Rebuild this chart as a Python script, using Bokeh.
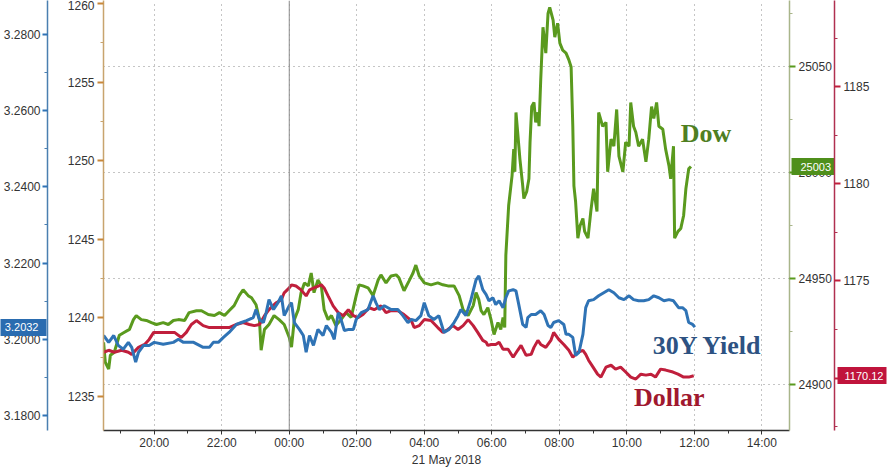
from bokeh.plotting import figure
from bokeh.models import Range1d, LinearAxis, FixedTicker, Span, Label, PrintfTickFormatter
from bokeh.embed import file_html
from bokeh.resources import INLINE

# ---------------- data (times are HH:MM; 18:00-23:59 belong to 20 May, the rest to 21 May) -------------
dow_times = ["18:30","18:33","18:39","18:42","18:49","18:58","19:07","19:16","19:23","19:28","19:37","19:46",
             "19:55","20:04","20:16","20:25","20:34","20:43","20:54","21:02","21:15","21:24","21:36","21:47",
             "21:56","22:05","22:13","22:22","22:31","22:38","22:47","22:53","23:01","23:07","23:10","23:16",
             "23:24","23:33","23:42","23:51","00:00","00:04","00:09","00:16","00:21","00:27","00:34","00:39",
             "00:44","00:51","00:57","01:02","01:09","01:15","01:23","01:32","01:41","01:50","01:59","02:04",
             "02:11","02:20","02:29","02:38","02:43","02:52","03:01","03:10","03:15","03:24","03:33","03:40",
             "03:45","03:51","04:00","04:12","04:24","04:33","04:42","04:53","05:02","05:09","05:18","05:27",
             "05:32","05:37","05:41","05:46","05:53","05:59","06:04","06:11","06:16","06:20","06:23","06:25",
             "06:30","06:36","06:39","06:41","06:43","06:46","06:50","06:55","06:57","07:02","07:06","07:08",
             "07:11","07:15","07:18","07:22","07:24","07:27","07:31","07:33","07:36","07:40","07:43","07:49",
             "07:52","07:57","08:01","08:06","08:12","08:17","08:21","08:24","08:26","08:29","08:33","08:37",
             "08:42","08:45","08:51","08:56","09:01","09:07","09:10","09:17","09:23","09:26","09:32","09:37",
             "09:42","09:46","09:53","09:58","10:04","10:07","10:12","10:16","10:21","10:28","10:34","10:39",
             "10:44","10:48","10:53","10:57","11:04","11:09","11:15","11:18","11:23","11:25","11:31","11:36",
             "11:41","11:45","11:50","11:54"]
dow_vals = [24920.1,24910.7,24907.5,24914.0,24915.4,24923.4,24924.8,24926.2,24930.8,24932.7,24930.8,24930.4,
            24929.4,24928.5,24929.4,24928.5,24930.4,24930.8,24930.4,24934.1,24935.0,24935.0,24933.2,24932.7,
            24934.1,24932.7,24935.0,24937.4,24942.1,24944.9,24942.1,24941.1,24937.8,24930.8,24916.4,24926.2,
            24928.5,24932.7,24930.8,24928.5,24922.4,24917.8,24930.8,24935.5,24943.5,24948.1,24946.7,24952.8,
            24943.5,24949.5,24946.7,24935.5,24930.8,24932.7,24928.0,24930.8,24934.1,24931.8,24942.1,24947.2,
            24946.7,24945.8,24942.1,24949.5,24951.9,24948.1,24951.4,24951.9,24950.5,24944.4,24949.1,24952.8,
            24956.5,24951.4,24948.1,24947.2,24948.1,24947.2,24946.7,24946.7,24942.1,24935.5,24932.7,24937.4,
            24943.5,24940.2,24935.0,24933.2,24936.4,24930.4,24923.8,24929.4,24926.2,24931.8,24927.1,24961.2,
            24984.6,24998.6,25011.2,25000.5,25028.5,25019.2,25006.5,24993.9,24987.9,24991.1,24997.2,25014.5,
            25031.3,25033.2,25023.8,25028.5,25022.0,25043.9,25068.7,25064.0,25056.5,25075.2,25078.0,25072.0,
            25064.0,25070.6,25061.2,25057.9,25056.5,25053.3,25050.0,25022.0,24993.9,24986.4,24969.2,24975.2,
            24978.5,24972.4,24969.2,24981.8,24992.5,24981.8,25028.5,25022.0,25023.8,25000.5,25015.9,25012.6,
            25029.9,25007.9,25000.5,25014.5,25012.6,25033.2,25022.0,25019.2,25012.6,25015.9,25005.2,25015.9,
            25031.3,25025.7,25033.2,25022.0,25020.6,25011.2,25003.3,24997.2,25012.6,24969.2,24972.4,24973.8,
            24979.9,24992.5,25001.9,25003.0]

yld_times = ["18:30","18:39","18:48","18:56","19:05","19:14","19:20","19:27","19:32","19:41","19:51","20:00",
             "20:16","20:34","20:43","20:52","21:10","21:27","21:38","21:45","21:54","22:03","22:13","22:26",
             "22:35","22:44","22:56","23:01","23:07","23:14","23:19","23:24","23:32","23:40","23:46","23:51",
             "00:00","00:04","00:09","00:18","00:25","00:30","00:36","00:43","00:51","01:00","01:06","01:15",
             "01:20","01:27","01:32","01:38","01:46","01:54","01:59","02:08","02:20","02:29","02:34","02:40",
             "02:49","03:01","03:13","03:22","03:31","03:37","03:45","03:54","04:00","04:08","04:17","04:26",
             "04:35","04:44","04:53","05:00","05:05","05:14","05:23","05:32","05:37","05:44","05:50","05:55",
             "06:02","06:07","06:13","06:20","06:25","06:30","06:38","06:43","06:48","06:55","07:01","07:04",
             "07:10","07:18","07:27","07:33","07:40","07:45","07:50","07:59","08:08","08:12","08:17","08:24",
             "08:29","08:35","08:42","08:47","08:52","09:01","09:10","09:19","09:28","09:37","09:46","09:55",
             "10:04","10:12","10:21","10:30","10:39","10:48","10:57","11:06","11:15","11:23","11:32","11:39",
             "11:45","11:50","11:57","12:01"]
yld_vals = [3.2010,3.1992,3.2010,3.1984,3.1974,3.1992,3.1979,3.1940,3.1966,3.1984,3.1984,3.1992,
            3.1987,3.1992,3.2000,3.1992,3.1992,3.1979,3.1979,3.1992,3.1992,3.2005,3.2018,3.2039,
            3.2044,3.2049,3.2057,3.2078,3.2052,3.2044,3.2070,3.2104,3.2078,3.2096,3.2114,3.2062,
            3.2088,3.2096,3.2044,3.2026,3.2010,3.1966,3.2010,3.1984,3.2026,3.2010,3.2036,3.2018,
            3.2000,3.2070,3.2052,3.2023,3.2026,3.2026,3.2052,3.2070,3.2078,3.2114,3.2096,3.2078,
            3.2088,3.2078,3.2078,3.2062,3.2044,3.2052,3.2049,3.2062,3.2096,3.2062,3.2052,3.2062,
            3.2018,3.2026,3.2044,3.2062,3.2078,3.2062,3.2104,3.2156,3.2166,3.2130,3.2117,3.2101,
            3.2109,3.2091,3.2101,3.2083,3.2109,3.2127,3.2130,3.2127,3.2091,3.2039,3.2031,3.2057,
            3.2065,3.2065,3.2075,3.2065,3.2036,3.2031,3.2044,3.2049,3.2039,3.2013,3.2013,3.2005,
            3.1958,3.1966,3.2013,3.2083,3.2101,3.2104,3.2114,3.2122,3.2130,3.2122,3.2109,3.2104,
            3.2114,3.2104,3.2101,3.2101,3.2104,3.2114,3.2109,3.2101,3.2104,3.2101,3.2083,3.2083,
            3.2075,3.2044,3.2039,3.2032]

usd_times = ["18:30","18:39","18:49","19:02","19:14","19:20","19:32","19:43","19:51","19:59","20:09","20:22",
             "20:36","20:48","20:57","21:06","21:15","21:27","21:38","21:50","22:03","22:13","22:26","22:38",
             "22:49","22:58","23:07","23:16","23:24","23:37","23:46","23:51","00:00","00:04","00:12","00:21",
             "00:30","00:36","00:44","00:57","01:02","01:09","01:18","01:27","01:36","01:45","01:54","02:02",
             "02:11","02:22","02:31","02:43","02:52","03:01","03:13","03:24","03:37","03:42","03:51","04:00",
             "04:12","04:24","04:33","04:42","04:51","05:00","05:09","05:18","05:27","05:35","05:44","05:50",
             "05:53","05:59","06:07","06:13","06:20","06:29","06:38","06:46","06:52","07:01","07:10","07:15",
             "07:22","07:27","07:36","07:45","07:50","07:59","08:08","08:17","08:24","08:33","08:42","08:47",
             "08:52","09:00","09:08","09:14","09:23","09:32","09:40","09:49","09:58","10:07","10:16","10:25",
             "10:34","10:43","10:51","11:00","11:09","11:22","11:31","11:41","11:50","11:59"]
usd_vals = [1171.33,1171.43,1171.33,1171.43,1171.33,1171.22,1171.58,1171.73,1171.99,1172.35,1172.35,1172.35,
            1172.35,1172.09,1172.35,1172.76,1172.96,1172.70,1172.60,1172.60,1172.60,1172.60,1172.76,1172.86,
            1172.76,1172.70,1172.76,1173.21,1173.52,1173.88,1174.03,1174.39,1174.64,1174.80,1174.74,1174.54,
            1174.23,1174.54,1174.64,1174.80,1174.64,1174.23,1173.72,1173.37,1173.21,1173.52,1173.21,1173.11,
            1173.27,1173.62,1173.52,1173.72,1173.37,1173.47,1173.47,1173.27,1172.96,1172.60,1172.70,1173.01,
            1172.96,1172.60,1172.35,1172.50,1172.70,1172.50,1172.70,1173.01,1172.70,1172.35,1171.94,1171.84,
            1171.68,1171.73,1171.73,1171.84,1171.48,1171.48,1171.07,1171.43,1171.68,1171.17,1171.22,1171.58,
            1171.94,1171.73,1171.58,1171.94,1172.35,1171.99,1171.73,1171.43,1171.07,1171.33,1171.43,1171.22,
            1170.92,1170.56,1170.20,1170.05,1170.56,1170.66,1170.46,1170.56,1170.31,1170.05,1169.95,1170.20,
            1170.15,1170.20,1170.05,1170.46,1170.41,1170.31,1170.20,1170.05,1170.05,1170.12]

x_tick_hours = [-4, -2, 0, 2, 4, 6, 8, 10, 12, 14]
x_tick_labels = ["20:00", "22:00", "00:00", "02:00", "04:00", "06:00", "08:00", "10:00", "12:00", "14:00"]
date_label = "21 May 2018"
yld_ticks = [3.18, 3.20, 3.22, 3.24, 3.26, 3.28]
aux_ticks = [1235, 1240, 1245, 1250, 1255, 1260]
dow_ticks = [24900, 24950, 25000, 25050]
usd_ticks = [1170, 1175, 1180, 1185]
last_yld, last_dow, last_usd = 3.2032, 25003, 1170.12
series_names = ["Dow", "30Y Yield", "Dollar"]


def to_hours(s):
    h, m = map(int, s.split(":"))
    t = h + m / 60.0
    return t - 24 if h >= 18 else t


def mids(ticks):
    step = ticks[1] - ticks[0]
    return [ticks[0] - step / 2] + [t + step / 2 for t in ticks]


# ---------------- colours ----------------
GREEN, BLUE, RED = "#5a9a1e", "#2f73b5", "#c01f3c"
FONT = "Liberation Sans"

p = figure(width=890, height=469, output_backend="svg", toolbar_location=None,
           x_range=Range1d(-5.503, 14.82), y_range=Range1d(24878.5, 25081.3),
           y_axis_location="right", min_border_left=102, min_border_right=101,
           min_border_top=0, min_border_bottom=0)
p.outline_line_color = None
p.background_fill_color = "white"
p.border_fill_color = "white"
p.extra_y_ranges = {"yld": Range1d(3.1761, 3.2888),
                    "aux": Range1d(1232.83, 1260.19),
                    "usd": Range1d(1167.30, 1189.44)}


def style_axis(ax, line_color, tick_color, tick_out=6, standoff=3):
    ax.axis_line_color = line_color
    ax.axis_line_width = 1.5
    ax.major_tick_line_color = tick_color
    ax.major_tick_line_width = 2
    ax.major_tick_out = tick_out
    ax.major_tick_in = 0
    ax.minor_tick_line_color = line_color
    ax.minor_tick_out = 3
    ax.minor_tick_in = 0
    ax.major_label_text_font = FONT
    ax.major_label_text_font_size = "12px"
    ax.major_label_text_color = "#333333"
    ax.major_label_standoff = standoff


def tag_axis(ax, color, tick_in, tick_out, standoff):
    """An axis with a single tick at the last value, drawn as a filled tag."""
    ax.axis_line_color = None
    ax.minor_tick_line_color = None
    ax.minor_tick_out = 0
    ax.minor_tick_in = 0
    ax.major_tick_line_color = color
    ax.major_tick_line_width = 17
    ax.major_tick_in = tick_in
    ax.major_tick_out = tick_out
    ax.major_label_standoff = standoff
    ax.major_label_text_font = FONT
    ax.major_label_text_font_size = "11px"
    ax.major_label_text_color = "white"


# Dow axis (default right axis, inner)
dow_ax = p.yaxis[0]
dow_ax.ticker = FixedTicker(ticks=dow_ticks, minor_ticks=mids(dow_ticks))
style_axis(dow_ax, "#a9b58a", GREEN)

# Dow last-value tag
dow_tag = LinearAxis(ticker=FixedTicker(ticks=[last_dow], minor_ticks=[]),
                     formatter=PrintfTickFormatter(format="%d"))
tag_axis(dow_tag, "#4f8f1b", tick_in=43, tick_out=0, standoff=-34)
p.add_layout(dow_tag, "right")

# Dollar axis (outer right)
usd_ax = LinearAxis(y_range_name="usd",
                    ticker=FixedTicker(ticks=usd_ticks, minor_ticks=mids(usd_ticks)))
style_axis(usd_ax, "#b03050", RED)
p.add_layout(usd_ax, "right")

# Dollar last-value tag
usd_tag = LinearAxis(y_range_name="usd", ticker=FixedTicker(ticks=[last_usd], minor_ticks=[]),
                     formatter=PrintfTickFormatter(format="%.2f"))
tag_axis(usd_tag, "#c0143c", tick_in=35, tick_out=14, standoff=-42)
p.add_layout(usd_tag, "right")

# auxiliary axis 1235-1260 (inner left)
aux_ax = LinearAxis(y_range_name="aux",
                    ticker=FixedTicker(ticks=aux_ticks, minor_ticks=mids(aux_ticks)))
style_axis(aux_ax, "#c8a46e", "#c8873a")
aux_ax.axis_label = "|"
aux_ax.axis_label_text_alpha = 0
aux_ax.axis_label_text_font_size = "12px"
aux_ax.axis_label_standoff = 0
p.add_layout(aux_ax, "left")

# yield axis (outer left)
yld_ax = LinearAxis(y_range_name="yld", formatter=PrintfTickFormatter(format="%.4f"),
                    ticker=FixedTicker(ticks=yld_ticks, minor_ticks=mids(yld_ticks)))
style_axis(yld_ax, "#4a7fb0", BLUE, tick_out=5, standoff=2)
p.add_layout(yld_ax, "left")

# yield last-value tag
yld_tag = LinearAxis(y_range_name="yld", ticker=FixedTicker(ticks=[last_yld], minor_ticks=[]),
                     formatter=PrintfTickFormatter(format="%.4f"))
tag_axis(yld_tag, "#2a6cb0", tick_in=46, tick_out=0, standoff=-38)
p.add_layout(yld_tag, "left")

# x axis
xa = p.xaxis[0]
xa.ticker = FixedTicker(ticks=x_tick_hours, minor_ticks=list(range(-5, 15)))
xa.major_label_overrides = {h: lab for h, lab in zip(x_tick_hours, x_tick_labels)}
xa.axis_line_color = "#333333"
xa.axis_line_width = 1.5
xa.major_tick_line_color = "#333333"
xa.major_tick_out = 4
xa.major_tick_in = 0
xa.minor_tick_line_color = "#333333"
xa.minor_tick_out = 3
xa.minor_tick_in = 0
xa.major_label_text_font = FONT
xa.major_label_text_font_size = "12px"
xa.major_label_text_color = "#333333"
xa.major_label_standoff = 1
xa.axis_label = date_label
xa.axis_label_text_font = FONT
xa.axis_label_text_font_size = "12px"
xa.axis_label_text_font_style = "normal"
xa.axis_label_text_color = "#333333"
xa.axis_label_standoff = 0

# grids
p.xgrid.grid_line_color = "#8a8a8a"
p.xgrid.grid_line_dash = "1 4"
p.ygrid.grid_line_color = "#8a8a8a"
p.ygrid.grid_line_dash = "1 4"
p.add_layout(Span(location=0, dimension="height", line_color="#8a8a8a", line_width=1))

# lines
p.line([to_hours(t) for t in dow_times], dow_vals, line_color=GREEN, line_width=3)
p.line([to_hours(t) for t in usd_times], usd_vals, line_color=RED, line_width=3, y_range_name="usd")
p.line([to_hours(t) for t in yld_times], yld_vals, line_color=BLUE, line_width=3, y_range_name="yld")

# series names
SERIF = "Liberation Serif"
p.add_layout(Label(x=11.60, y=25018.7, text=series_names[0], text_font=SERIF, text_font_style="bold",
                   text_font_size="26px", text_color="#4f7f22", text_baseline="middle"))
p.add_layout(Label(x=10.77, y=24918.7, text=series_names[1], text_font=SERIF, text_font_style="bold",
                   text_font_size="26px", text_color="#2d5282", text_baseline="middle"))
p.add_layout(Label(x=10.21, y=24893.9, text=series_names[2], text_font=SERIF, text_font_style="bold",
                   text_font_size="26px", text_color="#a0182f", text_baseline="middle"))

open("out.html", "w").write(file_html(p, INLINE))
